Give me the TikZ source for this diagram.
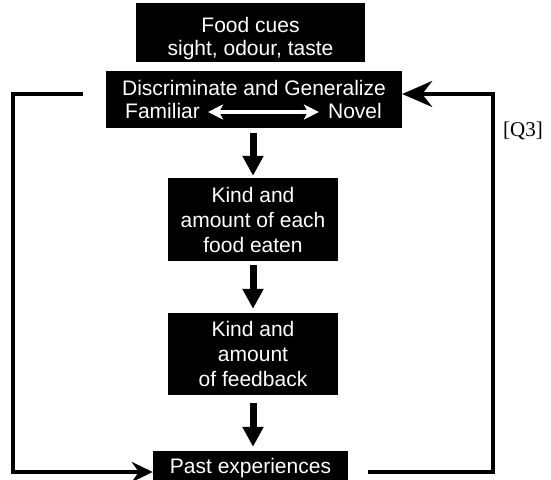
\documentclass[tikz,border=0pt]{standalone}
\usepackage{fontspec}
\setmainfont{Liberation Sans}
\newfontfamily\qfont{Liberation Serif}
\usetikzlibrary{arrows.meta}
\begin{document}
\begin{tikzpicture}[x=1pt,y=-1pt,
  box/.style={fill=black, text=white, inner sep=0pt, align=center, font=\fontsize{21}{25}\selectfont},
  txt/.style={text=white, inner sep=0pt, font=\fontsize{21}{25}\selectfont},
  down/.style={line width=7pt, -{Triangle[length=20pt,width=20pt]}},
  fb/.style={line width=4pt, line join=miter},
  ]
\useasboundingbox (0,0) rectangle (551,479);
\fill[white] (0,0) rectangle (551,479);
\clip (0,0) rectangle (551,479);

% boxes
\node[box, minimum width=229pt, minimum height=59pt] (cues) at (250.5,32.5) {};
\node[txt, align=center, font=\fontsize{21}{23}\selectfont] (cuestext) at (250.5,38.2) {Food cues\\sight, odour, taste};

\node[box, minimum width=296pt, minimum height=57pt] (disc) at (254,99.5) {};
\node[txt, anchor=base] (disctext) at (254,95) {Discriminate and Generalize};
\node[txt, anchor=base west] (fam) at (125,118) {Familiar};
\node[txt, anchor=base east] (nov) at (382,118) {Novel};
\draw[white, line width=4pt, {Stealth[length=15pt,width=15pt,inset=4pt]}-{Stealth[length=15pt,width=15pt,inset=4pt]}, shorten <=8pt, shorten >=9pt] ([yshift=-1.5pt]fam.east) -- ([yshift=-1.5pt]nov.west);

\node[box, minimum width=170pt, minimum height=83pt] (eaten) at (253,219.5) {Kind and\\amount of each\\food eaten};
\node[box, minimum width=170pt, minimum height=82pt] (feedback) at (253,354) {Kind and\\amount\\of feedback};
\node[box, minimum width=195pt, minimum height=34pt] (past) at (250.5,468) {Past experiences};

% down arrows
\draw[down, shorten <=5pt, shorten >=2pt] (disc.south -| eaten.north) -- (eaten.north);
\draw[down, shorten <=4pt, shorten >=4pt] (eaten.south) -- (feedback.north);
\draw[down, shorten <=8pt, shorten >=4pt] (feedback.south) -- (feedback.south |- past.north);

% feedback loops
\coordinate (lstart) at (83,94);
\coordinate (lcorner) at (13,472);
\draw[fb, -{Stealth[length=21pt,width=20pt,inset=7pt]}] (lstart) -| (lcorner) -- (lcorner -| past.west);

\coordinate (rstart) at (368,472);
\coordinate (rcorner) at (493,94);
\draw[fb, -{Stealth[length=30pt,width=26pt,inset=10pt]}] (rstart) -| (rcorner) -- (rcorner -| disc.east);

\node[anchor=west, inner sep=0pt, font=\qfont\fontsize{21}{25}\selectfont] (q3) at (503,131) {[Q3]};
\end{tikzpicture}
\end{document}
